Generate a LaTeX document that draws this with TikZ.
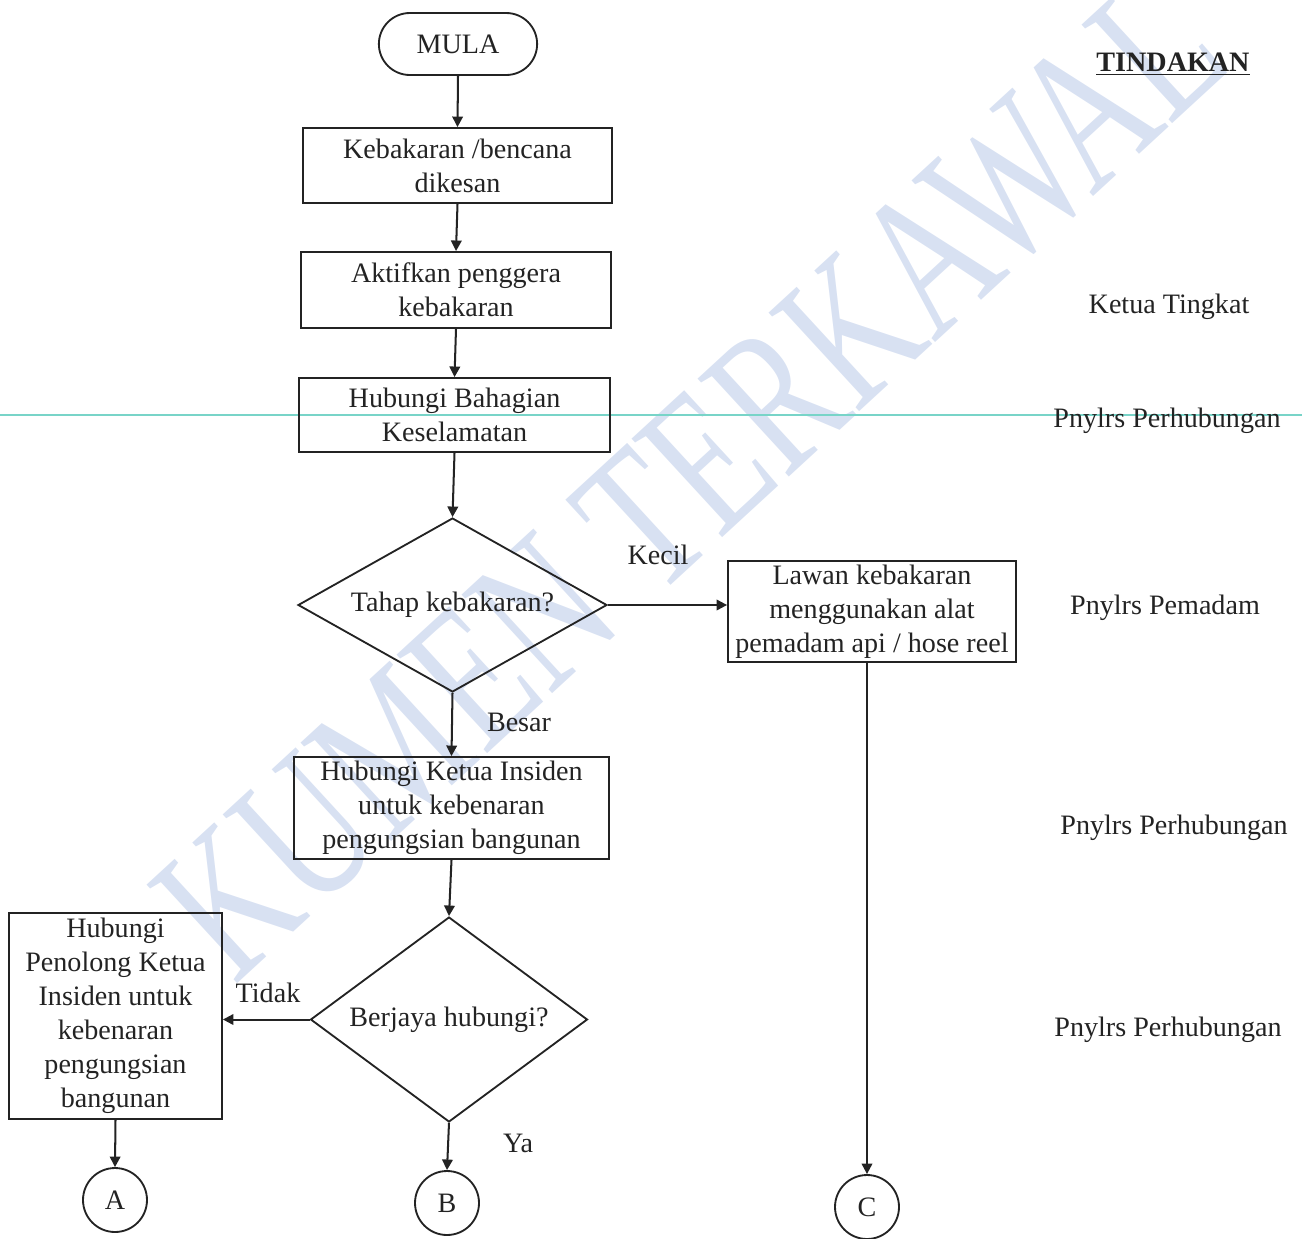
\documentclass[tikz,border=0pt]{standalone}
\usepackage{fontspec}
\setmainfont{Liberation Serif}
\usepackage{graphicx}
\usetikzlibrary{shapes.geometric,shapes.misc,arrows.meta}
\definecolor{ink}{RGB}{35,35,35}
\definecolor{wm}{RGB}{216,225,242}
\definecolor{scanline}{RGB}{120,212,200}
\begin{document}
\begin{tikzpicture}[x=0.02cm,y=-0.02cm,
  every node/.style={font=\fontsize{16}{19.3}\selectfont, text=ink},
  box/.style={draw=ink, line width=1.05pt, rectangle, align=center, inner sep=2pt},
  dec/.style={draw=ink, line width=1.05pt, diamond, inner sep=0pt, align=center},
  term/.style={draw=ink, line width=1.05pt, rounded rectangle, minimum width=3.4cm, minimum height=1.24cm},
  conn/.style={draw=ink, line width=1.05pt, circle, minimum size=1.28cm, inner sep=0pt},
  arr/.style={draw=ink, line width=1.15pt, -{Triangle[length=6pt,width=6pt]}},
  lbl/.style={inner sep=0pt},
  wmtext/.style={inner sep=0pt, text=wm},
]
\useasboundingbox (0,0) rectangle (1302,1238);
% watermark
\node[wmtext, rotate=42.6] (wmark) at (690,478) {\resizebox{27.2cm}{2.7cm}{KUMEN TERKAWAL}};
% scan line
\coordinate (sl1) at (0,415);
\coordinate (sl2) at (1302,415);
\draw[scanline, line width=0.6pt] (sl1) -- (sl2);

% flow nodes
\node[term] (mula) at (458,44) {MULA};
\node[box, minimum width=6.18cm, minimum height=1.5cm] (b1) at (457.5,165.5) {Kebakaran /bencana\\dikesan};
\node[box, minimum width=6.2cm, minimum height=1.52cm] (b2) at (456,290) {Aktifkan penggera\\kebakaran};
\node[box, minimum width=6.22cm, minimum height=1.48cm] (b3) at (454.5,415) {Hubungi Bahagian\\Keselamatan};
\node[dec, aspect=1.78, minimum width=6.18cm, minimum height=3.48cm] (d1) at (452.5,605) {Tahap kebakaran?};
\node[box, minimum width=5.76cm, minimum height=1.98cm] (lawan) at (872,611.5) {Lawan kebakaran\\menggunakan alat\\pemadam api / hose reel};
\node[box, minimum width=6.3cm, minimum height=2.04cm] (b4) at (451.5,808) {Hubungi Ketua Insiden\\untuk kebenaran\\pengungsian bangunan};
\node[dec, aspect=1.35, minimum width=5.54cm, minimum height=4.1cm] (d2) at (449,1019.5) {Berjaya hubungi?};
\node[box, minimum width=4.26cm, minimum height=4.12cm] (bl) at (115.5,1016) {Hubungi\\Penolong Ketua\\Insiden untuk\\kebenaran\\pengungsian\\bangunan};
\node[conn] (cA) at (115,1200) {A};
\node[conn] (cB) at (447,1203) {B};
\node[conn] (cC) at (867,1207) {C};

% connectors
\draw[arr] (mula.south) -- (b1.north);
\draw[arr] (b1.south) -- (b2.north);
\draw[arr] (b2.south) -- (b3.north);
\draw[arr] (b3.south) -- (d1.north);
\draw[arr] (d1.east) -- (d1.east -| lawan.west);
\draw[arr] (d1.south) -- (b4.north);
\draw[arr] (b4.south) -- (d2.north);
\draw[arr] (d2.west) -- (d2.west -| bl.east);
\draw[arr] (bl.south) -- (cA.north);
\draw[arr] (d2.south) -- (cB.north);
\draw[arr] (cC.north |- lawan.south) -- (cC.north);

% branch labels
\node[lbl] (kecil) at (658,555) {Kecil};
\node[lbl] (besar) at (519,722) {Besar};
\node[lbl] (tidak) at (268,993) {Tidak};
\node[lbl] (ya) at (518,1143) {Ya};

% action column
\node[lbl] (tindakan) at (1173,64) {\underline{\textbf{TINDAKAN}}};
\node[lbl] (r1) at (1169,307) {Ketua Tingkat};
\node[lbl] (r2) at (1167,421) {Pnylrs Perhubungan};
\node[lbl] (r3) at (1165,608) {Pnylrs Pemadam};
\node[lbl] (r4) at (1174,828) {Pnylrs Perhubungan};
\node[lbl] (r5) at (1168,1030) {Pnylrs Perhubungan};
\end{tikzpicture}
\end{document}
